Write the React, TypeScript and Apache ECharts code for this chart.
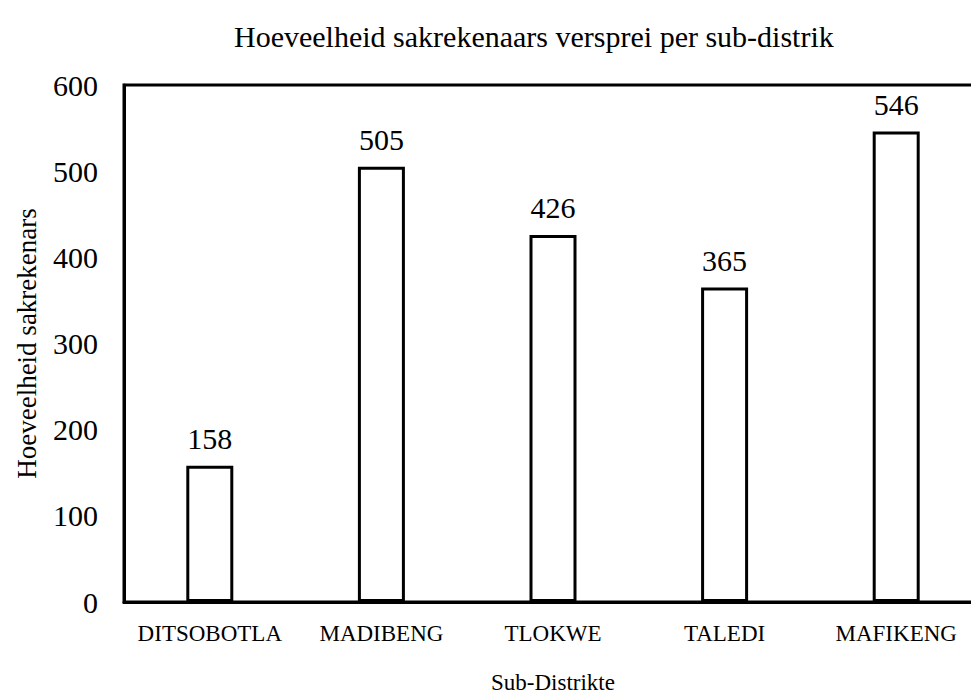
import React, { useEffect, useRef } from "react";
import * as echarts from "echarts";

const categories = ["DITSOBOTLA", "MADIBENG", "TLOKWE", "TALEDI", "MAFIKENG"];
const values = [158, 505, 426, 365, 546];
const chartTitle = "Hoeveelheid sakrekenaars versprei per sub-distrik";
const yAxisTitle = "Hoeveelheid sakrekenars";
const xAxisTitle = "Sub-Distrikte";

const FONT = "Liberation Serif";

export default function App() {
  const ref = useRef<HTMLDivElement>(null);
  useEffect(() => {
    if (!ref.current) return;
    const chart = echarts.init(ref.current, null, { renderer: "svg" });
    chart.setOption({
      animation: false,
      backgroundColor: "#fff",
      textStyle: { fontFamily: FONT, color: "#000" },
      title: {
        text: chartTitle,
        left: 229,
        top: 16,
        textStyle: { fontFamily: FONT, fontSize: 30, fontWeight: "normal", color: "#000" },
      },
      grid: {
        left: 124,
        right: -11,
        top: 85,
        bottom: 93,
        show: true,
        borderColor: "#000",
        borderWidth: 3,
        containLabel: false,
        outerBoundsMode: "none",
      },
      xAxis: {
        type: "category",
        data: categories,
        name: xAxisTitle,
        nameLocation: "middle",
        nameGap: 69,
        nameTextStyle: { fontFamily: FONT, fontSize: 23, lineHeight: 23, color: "#000" },
        axisLine: { show: true, lineStyle: { color: "#000", width: 3 } },
        axisTick: { show: false },
        axisLabel: { fontFamily: FONT, fontSize: 23, color: "#000", margin: 20, interval: 0 },
      },
      yAxis: {
        type: "value",
        min: 0,
        max: 600,
        interval: 100,
        name: yAxisTitle,
        nameLocation: "middle",
        nameGap: 84,
        nameTextStyle: { fontFamily: FONT, fontSize: 27, color: "#000" },
        axisLine: { show: true, lineStyle: { color: "#000", width: 3 } },
        axisTick: { show: false },
        splitLine: { show: false },
        axisLabel: { fontFamily: FONT, fontSize: 30, color: "#000", margin: 26 },
      },
      series: [
        {
          type: "bar",
          data: values,
          barWidth: 47,
          itemStyle: { color: "#fff", borderColor: "#000", borderWidth: 3 },
          label: {
            show: true,
            position: "top",
            distance: 12,
            fontFamily: FONT,
            fontSize: 30,
            fontWeight: "normal",
            color: "#000",
          },
        },
      ],
    });
    return () => chart.dispose();
  }, []);
  return (
    <div
      ref={ref}
      style={{ position: "fixed", left: 0, top: 0, width: 971, height: 695, background: "#fff" }}
    />
  );
}
